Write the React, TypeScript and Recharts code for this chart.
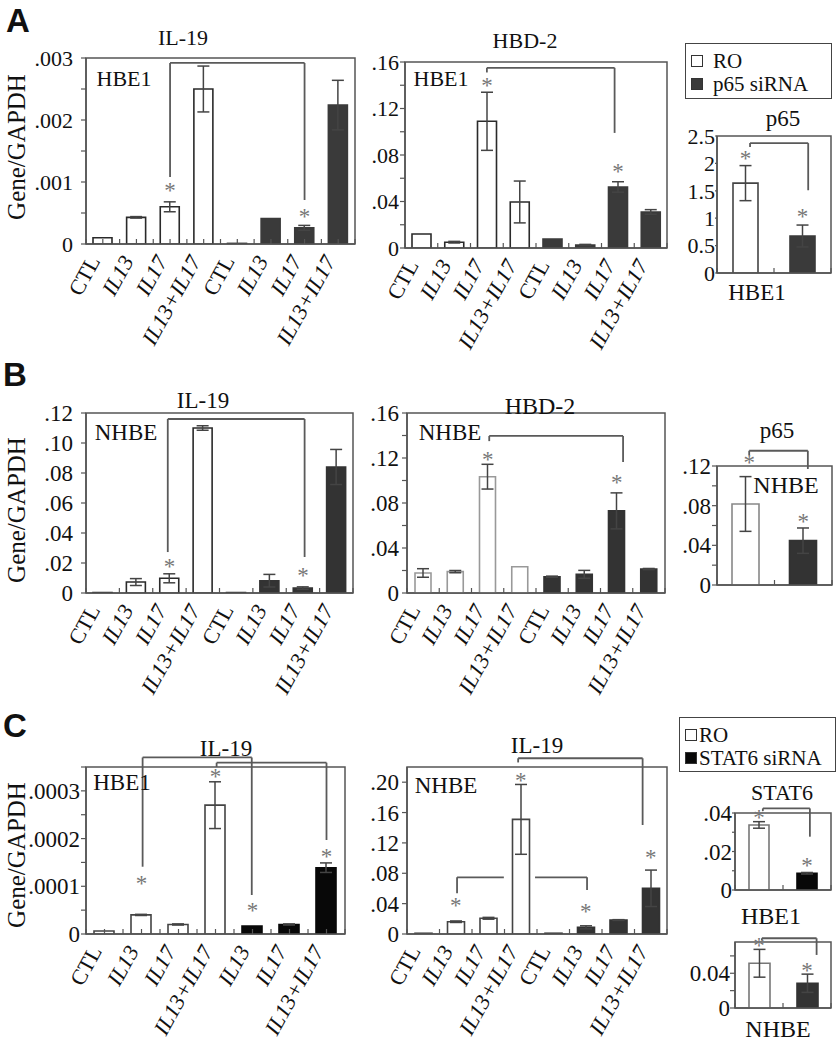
import React from 'react';
import { BarChart, Bar, XAxis, YAxis, ErrorBar, Cell, ReferenceLine, ReferenceArea, ReferenceDot } from 'recharts';

const SERIF = '"Liberation Serif", "Times New Roman", serif';
const SANS = '"Liberation Sans", Arial, sans-serif';

// ---------- categories ----------
const catsFull = ['CTL', 'IL13', 'IL17', 'IL13+IL17', 'CTL', 'IL13', 'IL17', 'IL13+IL17'];
const groupsFull = ['RO', 'RO', 'RO', 'RO', 'siRNA', 'siRNA', 'siRNA', 'siRNA'];
const catsC1 = ['CTL', 'IL13', 'IL17', 'IL13+IL17', 'IL13', 'IL17', 'IL13+IL17'];
const groupsC1 = ['RO', 'RO', 'RO', 'RO', 'siRNA', 'siRNA', 'siRNA'];
const catsPair = ['RO', 'siRNA'];
const groupsPair = ['RO', 'siRNA'];

// ---------- A: HBE1, p65 siRNA ----------
const a1Values = [0.0001, 0.00043, 0.0006, 0.0025, 0.00001, 0.00041, 0.00026, 0.00224];
const a1Errs = [0, 0.000012, 0.00008, 0.00037, 0, 0, 0.00004, 0.0004];
const a1Ticks = [0, 0.0005, 0.001, 0.0015, 0.002, 0.0025, 0.003];
const a1TickLabels = ['0', '', '.001', '', '.002', '', '.003'];
const a1Brackets = [{ x1: 2, x2: 6, y: 0.00292, yl: 0.00108, yr: 0.00071 }];
const a1Stars = [{ x: 2, y: 0.00092 }, { x: 6, y: 0.0005 }];

const a2Values = [0.012, 0.005, 0.109, 0.0396, 0.0077, 0.0026, 0.0525, 0.031];
const a2Errs = [0, 0.0007, 0.025, 0.018, 0, 0.0005, 0.0045, 0.002];
const ticks16 = [0, 0.02, 0.04, 0.06, 0.08, 0.1, 0.12, 0.14, 0.16];
const ticks16Labels = ['0', '', '.04', '', '.08', '', '.12', '', '.16'];
const a2Brackets = [{ x1: 2, x2: 5.9, y: 0.155, yl: 0.151, yr: 0.099 }];
const a2Stars = [{ x: 2, y: 0.143 }, { x: 6, y: 0.069 }];

const a3Values = [1.64, 0.675];
const a3Errs = [0.32, 0.2];
const a3Ticks = [0, 0.5, 1, 1.5, 2, 2.5];
const a3TickLabels = ['0', '0.5', '1', '1.5', '2', '2.5'];
const a3Brackets = [{ x1: 0.08, x2: 1.1, y: 2.37, yl: 2.3, yr: 1.51 }];
const a3Stars = [{ x: 0, y: 2.15 }, { x: 1, y: 1.09 }];

// ---------- B: NHBE, p65 siRNA ----------
const b1Values = [0.0003, 0.0073, 0.0098, 0.11, 0.0003, 0.0082, 0.0033, 0.084];
const b1Errs = [0, 0.0023, 0.003, 0.0015, 0, 0.0042, 0.0008, 0.0117];
const b1Ticks = [0, 0.02, 0.04, 0.06, 0.08, 0.1, 0.12];
const b1TickLabels = ['0', '.02', '.04', '.06', '.08', '.10', '.12'];
const b1Brackets = [{ x1: 1.95, x2: 6.05, y: 0.116, yl: 0.0273, yr: 0.024 }];
const b1Stars = [{ x: 2, y: 0.02 }, { x: 6, y: 0.014 }];

const b2Values = [0.0178, 0.019, 0.1034, 0.0234, 0.0145, 0.0166, 0.073, 0.0213];
const b2Errs = [0.0038, 0.001, 0.011, 0, 0.0005, 0.0035, 0.016, 0.0005];
const b2Brackets = [{ x1: 2.05, x2: 6.2, y: 0.1396, yl: 0.135, yr: 0.1164 }];
const b2Stars = [{ x: 2, y: 0.1218 }, { x: 6, y: 0.101 }];

const b3Values = [0.0817, 0.0447];
const b3Errs = [0.0276, 0.0128];
const b3Ticks = [0, 0.02, 0.04, 0.06, 0.08, 0.1, 0.12];
const b3TickLabels = ['0', '', '.04', '', '.08', '', '.12'];
const b3Brackets = [{ x1: 0.06, x2: 1.08, y: 0.1354, yl: 0.131, yr: 0.117 }];
const b3Stars = [{ x: 0.06, y: 0.127 }, { x: 1, y: 0.0676 }];

// ---------- C: STAT6 siRNA ----------
const c1Values = [0.0000063, 0.00004, 0.00002, 0.00027, 0.0000168, 0.00002, 0.000139];
const c1Errs = [0, 0.0000012, 0.0000012, 0.000049, 0, 0.0000012, 0.00001];
const c1Ticks = [0, 0.00005, 0.0001, 0.00015, 0.0002, 0.00025, 0.0003, 0.00035];
const c1TickLabels = ['0', '', '.0001', '', '.0002', '', '.0003', ''];
const c1Brackets = [
  { x1: 1.03, x2: 3.98, y: 0.00037, yl: 0.000141, yr: 0.0000817 },
  { x1: 3.03, x2: 6.0, y: 0.000359, yl: 0.00035, yr: 0.000197 },
];
const c1Stars = [{ x: 1, y: 0.000113 }, { x: 3, y: 0.000337 }, { x: 4, y: 0.0000572 }, { x: 6, y: 0.00017 }];

const c2Values = [0.001, 0.0162, 0.0207, 0.151, 0.001, 0.0088, 0.0184, 0.0602];
const c2Errs = [0, 0.001, 0.0012, 0.046, 0, 0.002, 0.0005, 0.024];
const c2Ticks = [0, 0.04, 0.08, 0.12, 0.16, 0.2];
const c2TickLabels = ['0', '.04', '.08', '.12', '.16', '.20'];
const c2Brackets = [
  { x1: 1.04, x2: 2.48, y: 0.0747, yl: 0.0536, yr: null },
  { x1: 3.44, x2: 5.04, y: 0.0747, yl: null, yr: 0.058 },
  { x1: 2.92, x2: 6.75, y: 0.2315, yl: 0.226, yr: 0.1436 },
];
const c2Stars = [{ x: 1, y: 0.0426 }, { x: 3, y: 0.207 }, { x: 5, y: 0.034 }, { x: 7, y: 0.106 }];

const c3Values = [0.0338, 0.0087];
const c3Errs = [0.0017, 0.0004];
const c3Ticks = [0, 0.01, 0.02, 0.03, 0.04];
const c3TickLabels = ['0', '', '.02', '', '.04'];
const c3Brackets = [{ x1: 0.08, x2: 1.06, y: 0.0424, yl: 0.041, yr: 0.0277 }];
const c3Stars = [{ x: 0, y: 0.0395 }, { x: 1, y: 0.0147 }];

const c4Values = [0.0515, 0.0285];
const c4Errs = [0.016, 0.0105];
const c4Ticks = [0, 0.02, 0.04, 0.06];
const c4TickLabels = ['0', '', '0.04', ''];
const c4Brackets = [{ x1: 0.06, x2: 1.2, y: 0.0803, yl: 0.078, yr: 0.0611 }];
const c4Stars = [{ x: 0, y: 0.0764 }, { x: 1, y: 0.0475 }];

type Bracket = { x1: number; x2: number; y: number; yl: number | null; yr: number | null };
type Star = { x: number; y: number };

type PanelProps = {
  px: number; py: number; pw: number; ph: number;
  cats: string[]; groups: string[]; values: number[]; errs: number[];
  yMax: number; yTicks: number[]; yLabels: string[]; yGap: number; yFont: number;
  brackets: Bracket[]; stars: Star[];
  barSize: number; siFill: string; roStroke: string; showX: boolean; xh: number; halfTicks: boolean;
};

const AXIS = '#555';
const LINE = '#5a5a5a';

function XTick(props: any) {
  const { x, y, payload, cats, bw, half, showX } = props;
  const k: number = payload.value;
  const n: number = cats.length;
  const label: string = cats[k] ?? '';
  const italic = label !== 'CTL';
  const marks: number[] = [x - bw / 2];
  if (half) marks.push(x);
  if (k === n - 1) marks.push(x + bw / 2);
  return (
    <g>
      {marks.map((mx, j) => (
        <line key={j} x1={mx} x2={mx} y1={y} y2={y - 5} stroke={AXIS} strokeWidth={1.2} />
      ))}
      {showX ? (
        <g transform={`translate(${x - 2},${y + 17})`}>
          <text
            x={0}
            y={0}
            transform="rotate(-61)"
            textAnchor="end"
            fontFamily={SERIF}
            fontSize={22}
            fontStyle={italic ? 'italic' : 'normal'}
            fill="#111"
          >
            {label}
          </text>
        </g>
      ) : null}
    </g>
  );
}

function StarShape(props: any) {
  const { cx, cy } = props;
  return (
    <text x={cx} y={cy + 11} textAnchor="middle" fontFamily={SERIF} fontSize={23} fill="#777">
      *
    </text>
  );
}

function Panel(p: PanelProps) {
  const ML = 70;
  const MT = 40;
  const MR = 12;
  const data = p.cats.map((c, i) => ({ i, label: c, group: p.groups[i], value: p.values[i], err: p.errs[i] }));
  const n = data.length;
  const w = ML + p.pw + MR;
  const h = MT + p.ph + p.xh;
  const tickSize = Math.min(5, p.yGap);
  const tickMargin = Math.max(0, p.yGap - tickSize);
  const fmt = (v: number) => {
    const k = p.yTicks.findIndex((t) => Math.abs(t - v) < p.yMax * 1e-6);
    return k >= 0 ? p.yLabels[k] : '';
  };
  const idx = data.map((d) => d.i);
  const bw = p.pw / n;
  return (
    <div style={{ position: 'absolute', left: p.px - ML, top: p.py - MT }}>
      <BarChart width={w} height={h} data={data} margin={{ top: MT, right: MR, left: 0, bottom: 0 }}>
        <XAxis
          type="number"
          dataKey="i"
          domain={[-0.5, n - 0.5]}
          ticks={idx}
          interval={0}
          allowDataOverflow
          tickLine={false}
          tickSize={0}
          tickMargin={0}
          axisLine={{ stroke: AXIS, strokeWidth: 1.5 }}
          height={p.xh}
          tick={<XTick cats={p.cats} bw={bw} half={p.halfTicks} showX={p.showX} />}
        />
        <YAxis
          type="number"
          domain={[0, p.yMax]}
          ticks={p.yTicks}
          interval={0}
          allowDataOverflow
          width={ML}
          tickSize={tickSize}
          tickMargin={tickMargin}
          tickLine={{ stroke: AXIS, strokeWidth: 1.2 }}
          axisLine={{ stroke: AXIS, strokeWidth: 1.5 }}
          tickFormatter={fmt}
          tick={{ fontFamily: SERIF, fontSize: p.yFont, fill: '#111' }}
        />
        <ReferenceArea
          x1={-0.5}
          x2={n - 0.5}
          y1={0}
          y2={p.yMax}
          fill="none"
          fillOpacity={0}
          stroke={AXIS}
          strokeWidth={1.5}
          ifOverflow="visible"
        />
        <Bar dataKey="value" barSize={p.barSize} isAnimationActive={false}>
          {data.map((d) => (
            <Cell
              key={d.i}
              fill={d.group === 'RO' ? '#ffffff' : p.siFill}
              stroke={d.group === 'RO' ? p.roStroke : p.siFill}
              strokeWidth={1.6}
            />
          ))}
          <ErrorBar dataKey="err" width={6} stroke="#444" strokeWidth={1.5} />
        </Bar>
        {p.brackets.map((b, k) => (
          <ReferenceLine
            key={`h${k}`}
            segment={[{ x: b.x1, y: b.y }, { x: b.x2, y: b.y }]}
            stroke={LINE}
            strokeWidth={1.8}
            ifOverflow="visible"
          />
        ))}
        {p.brackets
          .filter((b) => b.yl !== null)
          .map((b, k) => (
            <ReferenceLine
              key={`l${k}`}
              segment={[{ x: b.x1, y: b.y }, { x: b.x1, y: b.yl as number }]}
              stroke={LINE}
              strokeWidth={1.8}
              ifOverflow="visible"
            />
          ))}
        {p.brackets
          .filter((b) => b.yr !== null)
          .map((b, k) => (
            <ReferenceLine
              key={`r${k}`}
              segment={[{ x: b.x2, y: b.y }, { x: b.x2, y: b.yr as number }]}
              stroke={LINE}
              strokeWidth={1.8}
              ifOverflow="visible"
            />
          ))}
        {p.stars.map((s, k) => (
          <ReferenceDot key={`s${k}`} x={s.x} y={s.y} r={4} ifOverflow="visible" shape={<StarShape />} />
        ))}
      </BarChart>
    </div>
  );
}

function T(props: { x: number; y: number; size: number; children: React.ReactNode; bold?: boolean; sans?: boolean; rotate?: number }) {
  return (
    <div
      style={{
        position: 'absolute',
        left: props.x,
        top: props.y,
        transform: `translate(-50%, -50%)${props.rotate ? ` rotate(${props.rotate}deg)` : ''}`,
        fontFamily: props.sans ? SANS : SERIF,
        fontWeight: props.bold ? 700 : 400,
        fontSize: props.size,
        lineHeight: 1,
        whiteSpace: 'nowrap',
        color: '#111',
      }}
    >
      {props.children}
    </div>
  );
}

function LegendBox(props: { x: number; y: number; w: number; h: number; textX: number; label2: string; fill2: string; fs: number }) {
  const sq = (fill: string, cy: number) => (
    <div
      style={{
        position: 'absolute',
        left: 5,
        top: cy - 6,
        width: 10,
        height: 10,
        background: fill,
        border: '1.5px solid #333',
      }}
    />
  );
  return (
    <div
      style={{
        position: 'absolute',
        left: props.x,
        top: props.y,
        width: props.w,
        height: props.h,
        border: '1.5px solid #444',
        boxSizing: 'border-box',
        fontFamily: SERIF,
        fontSize: props.fs,
        color: '#111',
      }}
    >
      {sq('#fff', 17)}
      {sq(props.fill2, 40)}
      <div style={{ position: 'absolute', left: props.textX, top: 17, transform: 'translateY(-50%)', lineHeight: 0.9 }}>RO</div>
      <div style={{ position: 'absolute', left: props.textX, top: 40, transform: 'translateY(-50%)', lineHeight: 0.9, whiteSpace: 'nowrap' }}>
        {props.label2}
      </div>
    </div>
  );
}

export default function App() {
  return (
    <div
      style={{
        position: 'absolute',
        left: 0,
        top: 0,
        width: 837,
        height: 1050,
        background: '#fff',
        overflow: 'hidden',
        fontFamily: SERIF,
      }}
    >
      {/* Panel A */}
      <Panel px={86} py={58} pw={269} ph={186} cats={catsFull} groups={groupsFull} values={a1Values} errs={a1Errs}
        yMax={0.003} yTicks={a1Ticks} yLabels={a1TickLabels} yGap={13} yFont={22}
        brackets={a1Brackets} stars={a1Stars} barSize={19} siFill="#3a3a3a" roStroke="#2a2a2a" showX xh={120} halfTicks />
      <Panel px={405} py={62} pw={262} ph={186} cats={catsFull} groups={groupsFull} values={a2Values} errs={a2Errs}
        yMax={0.16} yTicks={ticks16} yLabels={ticks16Labels} yGap={6} yFont={22}
        brackets={a2Brackets} stars={a2Stars} barSize={19} siFill="#3a3a3a" roStroke="#2a2a2a" showX xh={120} halfTicks={false} />
      <Panel px={717} py={136} pw={114} ph={137} cats={catsPair} groups={groupsPair} values={a3Values} errs={a3Errs}
        yMax={2.5} yTicks={a3Ticks} yLabels={a3TickLabels} yGap={2} yFont={22}
        brackets={a3Brackets} stars={a3Stars} barSize={25} siFill="#3a3a3a" roStroke="#444" showX={false} xh={20} halfTicks={false} />

      {/* Panel B */}
      <Panel px={86} py={413} pw={267} ph={180} cats={catsFull} groups={groupsFull} values={b1Values} errs={b1Errs}
        yMax={0.12} yTicks={b1Ticks} yLabels={b1TickLabels} yGap={13} yFont={23}
        brackets={b1Brackets} stars={b1Stars} barSize={19} siFill="#333" roStroke="#2a2a2a" showX xh={120} halfTicks={false} />
      <Panel px={407} py={413} pw={258} ph={180} cats={catsFull} groups={groupsFull} values={b2Values} errs={b2Errs}
        yMax={0.16} yTicks={ticks16} yLabels={ticks16Labels} yGap={8} yFont={23}
        brackets={b2Brackets} stars={b2Stars} barSize={16} siFill="#333" roStroke="#999" showX xh={120} halfTicks={false} />
      <Panel px={717} py={466} pw={115} ph={119} cats={catsPair} groups={groupsPair} values={b3Values} errs={b3Errs}
        yMax={0.12} yTicks={b3Ticks} yLabels={b3TickLabels} yGap={6} yFont={23}
        brackets={b3Brackets} stars={b3Stars} barSize={27} siFill="#333" roStroke="#888" showX={false} xh={20} halfTicks={false} />

      {/* Panel C */}
      <Panel px={86} py={767} pw={259} ph={167} cats={catsC1} groups={groupsC1} values={c1Values} errs={c1Errs}
        yMax={0.00035} yTicks={c1Ticks} yLabels={c1TickLabels} yGap={6} yFont={23}
        brackets={c1Brackets} stars={c1Stars} barSize={20} siFill="#080808" roStroke="#444" showX xh={116} halfTicks />
      <Panel px={407} py={767} pw={260} ph={167} cats={catsFull} groups={groupsFull} values={c2Values} errs={c2Errs}
        yMax={0.22} yTicks={c2Ticks} yLabels={c2TickLabels} yGap={8} yFont={23}
        brackets={c2Brackets} stars={c2Stars} barSize={17} siFill="#333" roStroke="#444" showX xh={116} halfTicks={false} />
      <Panel px={735} py={813} pw={96} ph={77} cats={catsPair} groups={groupsPair} values={c3Values} errs={c3Errs}
        yMax={0.04} yTicks={c3Ticks} yLabels={c3TickLabels} yGap={3} yFont={23}
        brackets={c3Brackets} stars={c3Stars} barSize={20} siFill="#080808" roStroke="#777" showX={false} xh={16} halfTicks={false} />
      <Panel px={735} py={942} pw={96} ph={66} cats={catsPair} groups={groupsPair} values={c4Values} errs={c4Errs}
        yMax={0.076} yTicks={c4Ticks} yLabels={c4TickLabels} yGap={5} yFont={23}
        brackets={c4Brackets} stars={c4Stars} barSize={21} siFill="#333" roStroke="#777" showX={false} xh={16} halfTicks={false} />

      {/* Panel letters */}
      <T x={18} y={20} size={33} bold sans>A</T>
      <T x={15} y={374} size={33} bold sans>B</T>
      <T x={15} y={725} size={33} bold sans>C</T>

      {/* Y-axis titles */}
      <T x={16} y={147} size={25} rotate={-90}>Gene/GAPDH</T>
      <T x={16} y={510} size={25} rotate={-90}>Gene/GAPDH</T>
      <T x={16} y={855} size={25} rotate={-90}>Gene/GAPDH</T>

      {/* Chart titles */}
      <T x={183} y={38} size={22}>IL-19</T>
      <T x={525} y={41} size={22}>HBD-2</T>
      <T x={783} y={118} size={23}>p65</T>
      <T x={203} y={400} size={23}>IL-19</T>
      <T x={540} y={406} size={24}>HBD-2</T>
      <T x={777} y={430} size={23}>p65</T>
      <T x={226} y={748} size={23}>IL-19</T>
      <T x={537} y={745} size={23}>IL-19</T>
      <T x={782} y={793} size={22}>STAT6</T>

      {/* Cell-line labels */}
      <T x={124} y={79} size={22}>HBE1</T>
      <T x={441} y={79} size={22}>HBE1</T>
      <T x={757} y={292} size={23}>HBE1</T>
      <T x={126} y={432} size={23}>NHBE</T>
      <T x={450} y={432} size={23}>NHBE</T>
      <T x={786} y={485} size={24}>NHBE</T>
      <T x={122} y={782} size={23}>HBE1</T>
      <T x={446} y={785} size={23}>NHBE</T>
      <T x={771} y={916} size={24}>HBE1</T>
      <T x={778} y={1029} size={24}>NHBE</T>

      {/* Legends */}
      <LegendBox x={685} y={43} w={147} h={56} textX={27} label2="p65 siRNA" fill2="#3a3a3a" fs={21} />
      <LegendBox x={679} y={717} w={157} h={55} textX={19} label2="STAT6 siRNA" fill2="#080808" fs={21} />
    </div>
  );
}
